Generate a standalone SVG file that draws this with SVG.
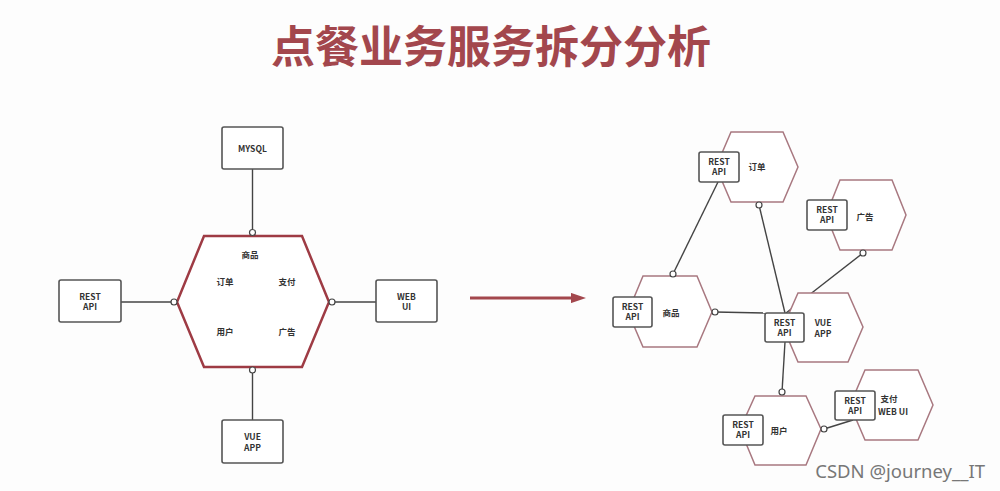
<svg xmlns="http://www.w3.org/2000/svg" width="1000" height="491" viewBox="0 0 1000 491">
<defs>
<style>
.t{font-family:"Noto Sans CJK SC","Noto Sans",sans-serif;font-weight:bold;fill:#333;font-size:8.5px;text-anchor:middle}
.box{fill:#fff;stroke:#555;stroke-width:1.6}
.hexL{fill:#fff;stroke:#9e3b44;stroke-width:2.5}
.hexR{fill:#fff;stroke:#a87880;stroke-width:1.5}
.ln{stroke:#444;stroke-width:1.4;fill:none}
.dot{fill:#fff;stroke:#444;stroke-width:1.2}
</style>
<marker id="ah" markerWidth="5" markerHeight="3.4" refX="3" refY="1.7" orient="auto" markerUnits="strokeWidth">
<path d="M0,0 L5,1.7 L0,3.4 z" fill="#a3474d"/>
</marker>
</defs>
<rect width="1000" height="491" fill="#fdfdfd"/>
<text x="491" y="63" font-family="Noto Sans CJK SC, sans-serif" font-weight="bold" font-size="44" fill="#a3474d" text-anchor="middle">点餐业务服务拆分分析</text>

<g id="connectors">
<line class="ln" x1="252.5" y1="169" x2="252.5" y2="232"/>
<line class="ln" x1="121" y1="302" x2="174" y2="302"/>
<line class="ln" x1="332" y1="302" x2="376" y2="302"/>
<line class="ln" x1="252.5" y1="370" x2="252.5" y2="420"/>
<line x1="470" y1="298" x2="580" y2="298" stroke="#a3474d" stroke-width="3" marker-end="url(#ah)"/>
<line class="ln" x1="718" y1="182" x2="673" y2="274"/>
<line class="ln" x1="759" y1="205" x2="785" y2="313"/>
<line class="ln" x1="863" y1="253" x2="786" y2="313"/>
<line class="ln" x1="715" y1="312" x2="766" y2="313"/>
<line class="ln" x1="785" y1="342" x2="782" y2="392"/>
<line class="ln" x1="824" y1="429" x2="853" y2="420"/>
</g>

<g id="left-hex">
<polygon class="hexL" points="204,236 302,236 329,302 302,367 204,367 177,302"/>
<text class="t" x="250" y="258">商品</text>
<text class="t" x="225" y="285">订单</text>
<text class="t" x="287" y="285">支付</text>
<text class="t" x="225" y="335">用户</text>
<text class="t" x="287" y="335">广告</text>
</g>
<g id="mysql"><rect class="box" x="222" y="127" width="61" height="42" rx="2"/><text class="t" x="252.5" y="152">MYSQL</text></g>
<g id="rest-left"><rect class="box" x="59" y="280" width="62" height="42" rx="2"/><text class="t" x="90" y="299.5">REST</text><text class="t" x="90" y="310">API</text></g>
<g id="webui"><rect class="box" x="376" y="280" width="61" height="42" rx="2"/><text class="t" x="406.5" y="299.5">WEB</text><text class="t" x="406.5" y="310">UI</text></g>
<g id="vueapp-left"><rect class="box" x="222" y="420" width="61" height="43" rx="2"/><text class="t" x="252.5" y="440">VUE</text><text class="t" x="252.5" y="450.5">APP</text></g>
<g id="dots-left">
<circle class="dot" cx="252.5" cy="232.5" r="3"/>
<circle class="dot" cx="174" cy="302" r="3"/>
<circle class="dot" cx="332" cy="302" r="3"/>
<circle class="dot" cx="252.5" cy="370" r="3"/>
</g>

<g id="order">
<polygon class="hexR" points="731,132 783,132 798,167 783,202 731,202 716,167"/>
<rect class="box" x="699" y="152" width="40" height="30" rx="2"/>
<text class="t" x="719" y="164.5">REST</text><text class="t" x="719" y="175">API</text>
<text class="t" x="757" y="170">订单</text>
<circle class="dot" cx="759" cy="205" r="3"/>
</g>
<g id="ad">
<polygon class="hexR" points="840,180 892,180 906,215 892,250 840,250 826,215"/>
<rect class="box" x="807" y="200" width="40" height="30" rx="2"/>
<text class="t" x="827" y="212.5">REST</text><text class="t" x="827" y="223">API</text>
<text class="t" x="865" y="220">广告</text>
<circle class="dot" cx="863" cy="253" r="3"/>
</g>
<g id="goods">
<polygon class="hexR" points="643,276 697,276 712,312 697,347 643,347 628,312"/>
<rect class="box" x="613" y="297" width="39" height="30" rx="2"/>
<text class="t" x="632.5" y="309.5">REST</text><text class="t" x="632.5" y="320">API</text>
<text class="t" x="671" y="316">商品</text>
<circle class="dot" cx="673" cy="274" r="3"/>
<circle class="dot" cx="715" cy="312" r="3"/>
</g>
<g id="vueapp">
<polygon class="hexR" points="798,293 848,293 863,327 848,362 798,362 783,327"/>
<rect class="box" x="765" y="313" width="39" height="29" rx="2"/>
<text class="t" x="784.5" y="325.5">REST</text><text class="t" x="784.5" y="336">API</text>
<text class="t" x="823" y="325.5">VUE</text><text class="t" x="823" y="337">APP</text>
</g>
<g id="user">
<polygon class="hexR" points="755,396 806,396 821,429 806,465 755,465 740,429"/>
<rect class="box" x="723" y="415" width="40" height="30" rx="2"/>
<text class="t" x="743" y="427.5">REST</text><text class="t" x="743" y="438">API</text>
<text class="t" x="779" y="434">用户</text>
<circle class="dot" cx="782" cy="392" r="3"/>
<circle class="dot" cx="824" cy="429" r="3"/>
</g>
<g id="pay">
<polygon class="hexR" points="865,370 918,370 933,405 918,440 865,440 850,405"/>
<rect class="box" x="835" y="391" width="40" height="29" rx="2"/>
<text class="t" x="855" y="403.5">REST</text><text class="t" x="855" y="414">API</text>
<text class="t" x="889" y="402">支付</text><text class="t" x="893" y="415">WEB UI</text>
</g>
<text x="985" y="478" font-family="Noto Sans, sans-serif" font-size="18.5" fill="#777" text-anchor="end">CSDN @journey__IT</text>
</svg>
